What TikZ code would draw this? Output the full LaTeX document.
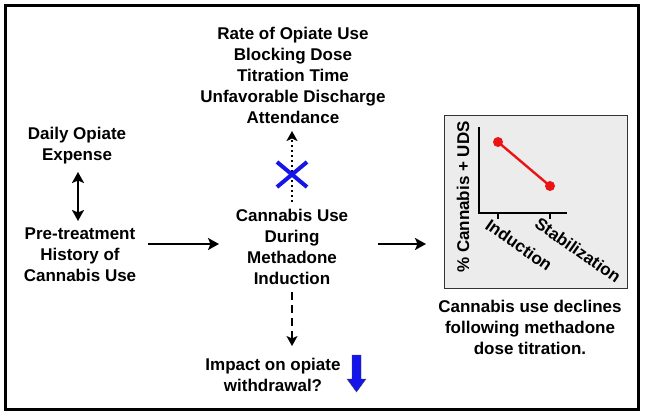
\documentclass[tikz,border=0pt]{standalone}
\usepackage{fontspec}
\setmainfont{Liberation Sans}
\usetikzlibrary{arrows.meta}
\definecolor{myblue}{RGB}{20,20,235}
\definecolor{myred}{RGB}{235,20,20}
\definecolor{boxgray}{RGB}{236,236,236}
\begin{document}
\begin{tikzpicture}[x=1pt,y=-1pt,
  txt/.style={font=\fontsize{17}{21}\selectfont\bfseries, align=center, inner sep=0pt},
  arr/.style={line width=2.4pt, -{Stealth[length=11pt,width=12pt,inset=2.5pt]}},
  darr/.style={line width=2.4pt, {Stealth[length=11pt,width=12pt,inset=2.5pt]}-{Stealth[length=11pt,width=12pt,inset=2.5pt]}},
  ]
\useasboundingbox (0,0) rectangle (645,416);
\draw[line width=3.5pt] (5.5,5.5) rectangle (638.5,409.5);

\node[txt] (out) at (293,75) {Rate of Opiate Use\\Blocking Dose\\Titration Time\\Unfavorable Discharge\\Attendance};
\node[txt] (daily) at (77,146) {Daily Opiate\\Expense};
\node[txt] (pre) at (80,255) {Pre-treatment\\History of\\Cannabis Use};
\node[txt] (mid) at (292,247) {Cannabis Use\\During\\Methadone\\Induction};
\node[txt] (imp) at (273,375) {Impact on opiate\\withdrawal?};
\node[txt] (cap) at (530,327) {Cannabis use declines\\following methadone\\dose titration.};

% connectors
\coordinate (dtop) at (78,172);
\coordinate (dbot) at (78,221);
\draw[darr] (dtop) -- (dbot);
\coordinate (a1s) at (148,244);
\coordinate (a1e) at (219,244);
\draw[arr] (a1s) -- (a1e);
\coordinate (a2s) at (378,244);
\coordinate (a2e) at (426,244);
\draw[arr] (a2s) -- (a2e);
\coordinate (dots) at (292,202);
\coordinate (dote) at (292,131);
\draw[line width=2.4pt, dash pattern=on 2.4pt off 2.6pt, -{Stealth[length=10pt,width=11pt,inset=2.5pt]}] (dots) -- (dote);
\coordinate (dss) at (292,292);
\coordinate (dse) at (292,346);
\draw[line width=2.4pt, dash pattern=on 8pt off 5pt, -{Stealth[length=10pt,width=11pt,inset=2.5pt]}] (dss) -- (dse);

% blue X
\draw[myblue, line width=4pt] (277,162) -- (307,187) (277,187) -- (307,162);

% blue down arrow
\fill[myblue, draw=black!70, line width=0.4pt] (352,355) -- (361,355) -- (361,379) -- (366,379) -- (356.5,392) -- (347,379) -- (352,379) -- cycle;

% chart
\draw[fill=boxgray, draw=black!80, line width=1pt] (444,115) rectangle (627,288);
\coordinate (yt) at (479,127);
\coordinate (org) at (479,213);
\coordinate (xr) at (567,213);
\draw[line width=2.6pt] (yt) -- (org) -- (xr);
\draw[line width=2pt] (498,213) -- (498,218.5) (550,213) -- (550,218.5);
\coordinate (p1) at (498,142);
\coordinate (p2) at (550,186);
\draw[myred, line width=2.4pt] (p1) -- (p2);
\fill[myred] (p1) circle (5pt) (p2) circle (5pt);
\node[txt, rotate=90] (ylab) at (463,197) {\% Cannabis + UDS};
\node[txt, rotate=-35] (ind) at (519,245) {Induction};
\node[txt, rotate=-35] (stab) at (578,250) {Stabilization};
\end{tikzpicture}
\end{document}
